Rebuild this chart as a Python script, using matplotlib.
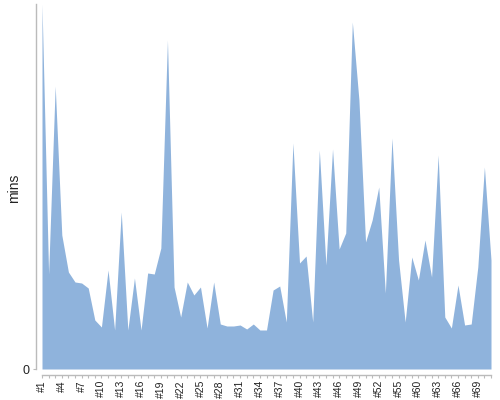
import matplotlib
matplotlib.use("Agg")
import matplotlib.pyplot as plt

plt.rcParams['font.family'] = ['Liberation Sans', 'DejaVu Sans']

labels = ["#%d" % n for n in range(1, 56)] + ["#57", "#59"] + ["#%d" % n for n in range(60, 72)]
values = [365, 95, 283, 134, 97, 87, 86, 81, 49, 42,
          99, 39, 157, 39, 91, 39, 96, 95, 121, 329,
          82, 52, 87, 74, 82, 41, 87, 45, 43, 43,
          44, 40, 45, 39, 39, 79, 83, 47, 226, 106,
          113, 47, 219, 104, 220, 120, 136, 347, 269, 127,
          149, 182, 76, 231, 109, 47, 112, 89, 129, 92,
          214, 52, 41, 84, 44, 45, 102, 202, 109]

fig = plt.figure(figsize=(5, 4), dpi=100)
ax = fig.add_axes([42/500, 1 - 369/400, 449/500, 365/400])
x = list(range(len(values)))
ax.fill_between(x, 0, values, color='#8fb3dc', linewidth=0)
ax.set_xlim(0, len(values) - 1)
ax.set_ylim(0, max(values))

for s in ['top', 'right']:
    ax.spines[s].set_visible(False)
for s in ['left', 'bottom']:
    ax.spines[s].set_position(('outward', 4))
    ax.spines[s].set_color('#bbbbbb')
    ax.spines[s].set_linewidth(1)

ax.set_xticks(x[::3])
ax.set_xticklabels(labels[::3], rotation=90, fontsize=7.5, color='#222222')
ax.set_xticks(x, minor=True)
ax.tick_params(axis='x', which='both', length=2, width=0.8, color='#bbbbbb', pad=2)
ax.set_yticks([0])
ax.set_yticklabels(['0'], fontsize=9, color='#222222')
ax.tick_params(axis='y', length=2, width=0.8, color='#bbbbbb', pad=3)
fig.text(14/500, 1 - 188/400, 'mins', rotation=90, fontsize=10, color='#222222',
         ha='center', va='center')

fig.savefig('out.png', dpi=100)
